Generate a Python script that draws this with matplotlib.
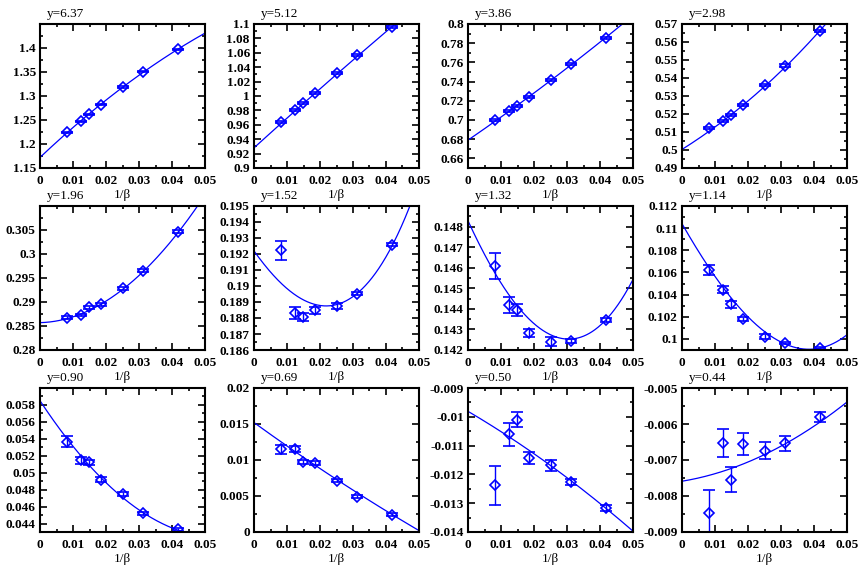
import numpy as np
import matplotlib
matplotlib.use("Agg")
import matplotlib.pyplot as plt
from matplotlib.ticker import FixedLocator, FuncFormatter

plt.rcParams['font.family'] = ['Liberation Serif', 'DejaVu Serif']

# ---------------- data ----------------
inv_beta = [0.00833, 0.0125, 0.0147, 0.0185, 0.025, 0.03125, 0.04167]
fit_x = [0.0, 0.01, 0.02, 0.03, 0.04, 0.05]

titles = ["y=6.37", "y=5.12", "y=3.86", "y=2.98",
          "y=1.96", "y=1.52", "y=1.32", "y=1.14",
          "y=0.90", "y=0.69", "y=0.50", "y=0.44"]

vals_637 = [1.224, 1.247, 1.262, 1.282, 1.3185, 1.3507, 1.397]
errs_637 = [0.0015, 0.0015, 0.0015, 0.0015, 0.0015, 0.0015, 0.0015]
fit_637 = [1.172, 1.2344, 1.2914, 1.3432, 1.3898, 1.431]

vals_512 = [0.964, 0.980, 0.990, 1.0046, 1.0317, 1.0564, 1.0954]
errs_512 = [0.0015, 0.0015, 0.0015, 0.0015, 0.0015, 0.0015, 0.0015]
fit_512 = [0.928, 0.9693, 1.0099, 1.0499, 1.0893, 1.128]

vals_386 = [0.700, 0.7097, 0.7146, 0.7242, 0.7413, 0.7581, 0.7852]
errs_386 = [0.001, 0.001, 0.001, 0.001, 0.001, 0.001, 0.001]
fit_386 = [0.679, 0.7031, 0.7281, 0.7541, 0.7811, 0.809]

vals_298 = [0.5124, 0.5159, 0.5195, 0.5252, 0.5359, 0.5469, 0.566]
errs_298 = [0.0006, 0.0006, 0.0006, 0.0006, 0.0006, 0.0006, 0.0006]
fit_298 = [0.5003, 0.5128, 0.5272, 0.5438, 0.5627, 0.584]

vals_196 = [0.2867, 0.2873, 0.2889, 0.2895, 0.2929, 0.2965, 0.3046]
errs_196 = [0.0003, 0.0003, 0.0003, 0.0003, 0.0003, 0.0003, 0.0003]
fit_196 = [0.2857, 0.2869, 0.2902, 0.2955, 0.3029, 0.3123]

vals_152 = [0.19224, 0.18833, 0.18808, 0.18849, 0.18876, 0.18953, 0.19257]
errs_152 = [0.0006, 0.00037, 0.00024, 0.00022, 0.0002, 0.0001, 0.0001]
fit_152 = [0.19213, 0.19004, 0.18860, 0.18930, 0.19195, 0.1965]

vals_132 = [0.14608, 0.1442, 0.14396, 0.14281, 0.14241, 0.14244, 0.14345]
errs_132 = [0.00063, 0.00038, 0.0003, 0.0002, 0.0002, 0.0001, 0.0001]
fit_132 = [0.14828, 0.14526, 0.14330, 0.14249, 0.14322, 0.14542]

vals_114 = [0.10622, 0.10444, 0.10313, 0.10182, 0.10021, 0.09961, 0.09917]
errs_114 = [0.00045, 0.0003, 0.0003, 0.0002, 0.0002, 0.0001, 0.0001]
fit_114 = [0.11042, 0.1056, 0.1020, 0.0998, 0.0990, 0.1004]

vals_090 = [0.05367, 0.05147, 0.05124, 0.04919, 0.0475, 0.04522, 0.04333]
errs_090 = [0.00065, 0.0004, 0.0003, 0.0003, 0.0002, 0.0002, 0.0002]
fit_090 = [0.05847, 0.0532, 0.0488, 0.0455, 0.0436, 0.0424]

vals_069 = [0.01148, 0.01148, 0.00972, 0.00958, 0.00713, 0.00491, 0.00241]
errs_069 = [0.0006, 0.0004, 0.0003, 0.0003, 0.0002, 0.0002, 0.0002]
fit_069 = [0.0152, 0.01194, 0.00882, 0.00582, 0.00294, 0.0002]

vals_050 = [-0.01238, -0.01061, -0.0101, -0.01143, -0.01169, -0.01226, -0.01317]
errs_050 = [0.00067, 0.00039, 0.00027, 0.0002, 0.00019, 0.0001, 0.0001]
fit_050 = [-0.00981, -0.010514, -0.011282, -0.012114, -0.01301, -0.01397]

vals_044 = [-0.00847, -0.00652, -0.00755, -0.00655, -0.00674, -0.00654, -0.00581]
errs_044 = [0.00065, 0.00039, 0.00035, 0.0003, 0.00024, 0.00022, 0.00014]
fit_044 = [-0.00759, -0.00738, -0.007056, -0.006616, -0.00606, -0.00539]

# y-axis setups: (ymin, ymax, major step, label top tick?)
yaxes = [
    (1.15, 1.45, 0.05, False),
    (0.90, 1.10, 0.02, True),
    (0.65, 0.80, 0.02, True),
    (0.49, 0.57, 0.01, True),
    (0.28, 0.31, 0.005, False),
    (0.186, 0.195, 0.001, True),
    (0.142, 0.149, 0.001, False),
    (0.099, 0.112, 0.002, True),
    (0.043, 0.060, 0.002, False),
    (0.0, 0.02, 0.005, True),
    (-0.014, -0.009, 0.001, True),
    (-0.009, -0.005, 0.001, True),
]
ymajor_start = [1.15, 0.90, 0.66, 0.49, 0.28, 0.186, 0.142, 0.100, 0.044, 0.0, -0.014, -0.009]

panels = [
    (vals_637, errs_637, fit_637), (vals_512, errs_512, fit_512),
    (vals_386, errs_386, fit_386), (vals_298, errs_298, fit_298),
    (vals_196, errs_196, fit_196), (vals_152, errs_152, fit_152),
    (vals_132, errs_132, fit_132), (vals_114, errs_114, fit_114),
    (vals_090, errs_090, fit_090), (vals_069, errs_069, fit_069),
    (vals_050, errs_050, fit_050), (vals_044, errs_044, fit_044),
]

# ---------------- layout ----------------
W, H = 859, 566
fig = plt.figure(figsize=(W / 100, H / 100), dpi=100)
lefts = [40, 254, 468, 682]
tops = [24, 206, 388]
aw, ah = 165, 144

blue = '#0000ff'
xs = np.linspace(0, 0.05, 300)


def fmt(v, pos=None):
    s = '%g' % round(v, 6)
    if s == '-0':
        s = '0'
    return s


for i, (vals, errs, fit) in enumerate(panels):
    r, c = divmod(i, 4)
    ax = fig.add_axes([lefts[c] / W, 1 - (tops[r] + ah) / H, aw / W, ah / H])
    ymin, ymax, step, label_top = yaxes[i]

    coef = np.polyfit(fit_x, fit, 3)
    ax.plot(xs, np.polyval(coef, xs), color=blue, lw=0.9)
    ax.errorbar(inv_beta, vals, yerr=errs, fmt='D', mfc='none', mec=blue,
                color=blue, ms=5, mew=1.2, elinewidth=1.0, capsize=4, capthick=1.0)

    ax.set_xlim(0, 0.05)
    ax.set_ylim(ymin, ymax)

    ax.xaxis.set_major_locator(FixedLocator(np.arange(0, 0.0501, 0.01)))
    ax.xaxis.set_minor_locator(FixedLocator(np.arange(0.005, 0.05, 0.01)))
    ax.xaxis.set_major_formatter(FuncFormatter(fmt))

    majors = np.arange(ymajor_start[i], ymax + step * 0.01, step)
    ax.yaxis.set_major_locator(FixedLocator(majors))
    minors = np.arange(ymajor_start[i] - step / 2, ymax + step * 0.01, step)
    ax.yaxis.set_minor_locator(FixedLocator(minors))

    def yfmt(v, pos=None, ymax=ymax, label_top=label_top, step=step):
        if not label_top and abs(v - ymax) < step * 0.01:
            return ''
        return fmt(v)
    ax.yaxis.set_major_formatter(FuncFormatter(yfmt))

    ax.tick_params(which='both', direction='in', top=True, right=True,
                   labelsize=9.5, width=1.2)
    ax.tick_params(axis='x', which='major', pad=5)
    ax.tick_params(axis='y', which='major', pad=3)
    ax.tick_params(which='major', length=5)
    ax.tick_params(which='minor', length=2.5)
    for lab in ax.get_xticklabels() + ax.get_yticklabels():
        lab.set_fontweight('bold')
    for sp in ax.spines.values():
        sp.set_linewidth(1.5)

    ax.set_xlabel('1/β', fontsize=9.5)
    ax.xaxis.set_label_coords(0.5, -0.145)
    ax.text(0.04, 1.03, titles[i], transform=ax.transAxes, ha='left',
            va='bottom', fontsize=9.5)

fig.savefig('out.png', dpi=100)
